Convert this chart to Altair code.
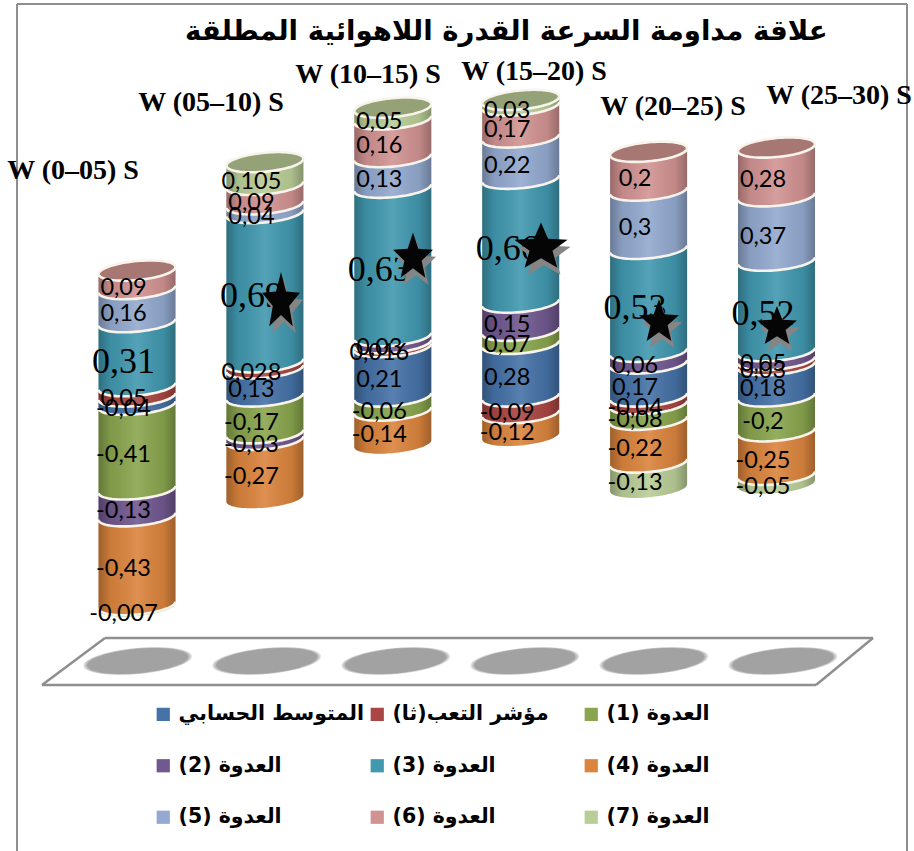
import math
import altair as alt
import numpy as np
import pandas as pd

# Speed-endurance bands shown on the category axis
bands = ["W (0–05) S", "W (05–10) S", "W (10–15) S", "W (15–20) S", "W (20–25) S", "W (25–30) S"]

# Series values per band, in stacking order
series_names = ["المتوسط الحسابي", "مؤشر التعب(ثا)", "العدوة (1)", "العدوة (2)", "العدوة (3)",
                "العدوة (4)", "العدوة (5)", "العدوة (6)", "العدوة (7)"]
mean_values = [-0.04, 0.13, 0.21, 0.28, 0.17, 0.18]
fatigue_values = [0.05, 0.028, 0.016, -0.09, -0.04, 0.03]
run1_values = [-0.41, -0.17, -0.06, 0.07, -0.08, -0.2]
run2_values = [-0.13, -0.03, 0.03, 0.15, 0.06, 0.05]
run3_values = [0.31, 0.69, 0.63, 0.66, 0.53, 0.52]
run4_values = [-0.43, -0.27, -0.14, -0.12, -0.22, -0.25]
run5_values = [0.16, 0.04, 0.13, 0.22, 0.3, 0.37]
run6_values = [0.09, 0.09, 0.16, 0.17, 0.2, 0.28]
run7_values = [-0.007, 0.105, 0.05, 0.03, -0.13, -0.05]
series_values = [mean_values, fatigue_values, run1_values, run2_values, run3_values,
                 run4_values, run5_values, run6_values, run7_values]
series_colors = ["#4572A7", "#AA4643", "#89A54E", "#71588F", "#4198AF",
                 "#DB843D", "#93A9CF", "#D19392", "#B9CD96"]

TITLE = "علاقة مداومة السرعة القدرة اللاهوائية المطلقة"

# Page geometry
W, H = 914, 851
COL0_PX, COL_STEP_PX = 137.0, 127.9
ZERO_PX, SHARE_PX = 396.5, 336.0
HALF_WIDTH = 38.5 / COL_STEP_PX
ARC_PX, TILT_PX = 9.5, 3.5

x_scale = alt.Scale(domain=[-COL0_PX / COL_STEP_PX, (W - COL0_PX) / COL_STEP_PX], range=[0, W], nice=False, zero=False)
y_scale = alt.Scale(domain=[(ZERO_PX - H) / SHARE_PX, ZERO_PX / SHARE_PX], range=[H, 0], nice=False, zero=False)

# Each band is normalised to the sum of absolute values, positives stacked up, negatives down
segments = []
for col in range(len(bands)):
    total = sum(abs(s[col]) for s in series_values)
    up, down = 0.0, 0.0
    for idx, s in enumerate(series_values):
        v = s[col]
        share = abs(v) / total
        if v >= 0:
            lo, hi = up, up + share
            up = hi
        else:
            lo, hi = down - share, down
            down = lo
        segments.append(dict(col=col, idx=idx, series=series_names[idx], value=v, lo=lo, hi=hi,
                             label=str(v).replace(".", ","), mid=(lo + hi) / 2))
seg = pd.DataFrame(segments)
tops = seg.loc[seg.groupby("col")["hi"].idxmax()]
bottoms = seg.loc[seg.groupby("col")["lo"].idxmin()]

# Sweep around the cylinder face; denser towards the rim
sweep = np.sin(np.linspace(-math.pi / 2, math.pi / 2, 41))
front = (ARC_PX * np.sqrt(np.clip(1 - sweep ** 2, 0, 1)) - TILT_PX * sweep) / SHARE_PX
back = (-ARC_PX * np.sqrt(np.clip(1 - sweep ** 2, 0, 1)) - TILT_PX * sweep) / SHARE_PX

bodies, lines, caps = [], [], []
for r in seg.itertuples():
    key = f"{r.col}-{r.idx}"
    for t, f in zip(sweep, front):
        bodies.append(dict(key=key, series=r.series, x=r.col + t * HALF_WIDTH, y=r.hi - f, y2=r.lo - f))
    if r.lo > bottoms[bottoms.col == r.col]["lo"].iloc[0] + 1e-9:
        for t, f in zip(sweep, front):
            lines.append(dict(key=key, x=r.col + t * HALF_WIDTH, y=r.lo - f))
for r in tops.itertuples():
    key = f"{r.col}-{r.idx}"
    for t, f, b in zip(sweep, front, back):
        caps.append(dict(key=key, series=r.series, x=r.col + t * HALF_WIDTH, y=r.hi - f, y2=r.hi - b))
        lines.append(dict(key=key + "top", x=r.col + t * HALF_WIDTH, y=r.hi - f))
        lines.append(dict(key=key + "back", x=r.col + t * HALF_WIDTH, y=r.hi - b))
bodies = pd.DataFrame(bodies)
caps = pd.DataFrame(caps)
lines = pd.DataFrame(lines)

X = alt.X("x:Q", scale=x_scale, axis=None)
Y = alt.Y("y:Q", scale=y_scale, axis=None)
color = alt.Color("series:N", scale=alt.Scale(domain=series_names, range=series_colors),
                  sort=series_names,
                  legend=alt.Legend(title=None, orient="none", legendX=153, legendY=704, columns=3,
                                    direction="horizontal", symbolType="square", symbolSize=175,
                                    symbolOffset=0, labelFont="DejaVu Sans", labelFontWeight="bold",
                                    labelFontSize=20.5, labelColor="black", labelLimit=300,
                                    gridAlign="all", columnPadding=3, rowPadding=30.5, labelOffset=5))

shade = alt.Gradient(gradient="linear", x1=0, y1=0, x2=1, y2=0, stops=[
    alt.GradientStop(offset=0, color="rgba(0,0,0,0.28)"),
    alt.GradientStop(offset=0.16, color="rgba(0,0,0,0.07)"),
    alt.GradientStop(offset=0.5, color="rgba(255,255,255,0.10)"),
    alt.GradientStop(offset=0.84, color="rgba(0,0,0,0.07)"),
    alt.GradientStop(offset=1, color="rgba(0,0,0,0.28)"),
])

body_layer = alt.Chart(bodies).mark_area().encode(X, Y, y2="y2:Q", color=color, detail="key:N")
shade_layer = alt.Chart(bodies).mark_area(color=shade).encode(X, Y, y2="y2:Q", detail="key:N")
cap_layer = alt.Chart(caps).mark_area().encode(X, Y, y2="y2:Q", color=alt.Color("series:N", scale=alt.Scale(domain=series_names, range=series_colors), legend=None), detail="key:N")
cap_shade = alt.Chart(caps).mark_area(color="#3a3028", opacity=0.28).encode(X, Y, y2="y2:Q", detail="key:N")
rim_layer = alt.Chart(lines).mark_line(color="#f8f4ec", strokeWidth=2.6).encode(X, Y, detail="key:N")

# Value labels sit left of centre on each segment
labels = seg.assign(x=seg.col - 13.5 / COL_STEP_PX)
small_text = alt.Chart(labels[labels.idx != 4]).mark_text(font="Lato", fontSize=23.5, color="black", dy=8).encode(
    X, alt.Y("mid:Q", scale=y_scale, axis=None), text="label:N")
big_text = alt.Chart(labels[labels.idx == 4]).mark_text(font="Liberation Serif", fontSize=36, color="black", dy=8).encode(
    X, alt.Y("mid:Q", scale=y_scale, axis=None), text="label:N")


def rule(x1, y1, x2, y2, color, width):
    return alt.Chart(pd.DataFrame({"k": [0]})).mark_rule(color=color, strokeWidth=width).encode(
        x=alt.value(x1), x2=alt.value(x2), y=alt.value(y1), y2=alt.value(y2))


FRAME = "#8f8f8f"
frame = [rule(17, 4, 17, H, FRAME, 2), rule(17, 4, 907, 4, FRAME, 2), rule(907, 4, 907, H, FRAME, 2)]
floor = [rule(105, 638, 873, 638, FRAME, 2.5), rule(42, 685, 816, 685, FRAME, 2.5),
         rule(105, 638, 42, 685, FRAME, 2.5), rule(873, 638, 816, 685, FRAME, 2.5)]


def ellipse_path(rx, ry, tilt):
    pts = []
    for k in range(48):
        a = 2 * math.pi * k / 48
        px, py = rx * math.cos(a), ry * math.sin(a)
        c, s = math.cos(tilt), math.sin(tilt)
        pts.append(f"{px * c - py * s:.3f},{px * s + py * c:.3f}")
    return "M" + "L".join(pts) + "Z"


# Soft shadows beneath the columns on the floor plane
shadow_data = pd.DataFrame({"x": [c * 1.009 + 0.005 for c in range(len(bands))]})
shadow_shape = ellipse_path(1.0, 0.24, -0.09)
shadows = [
    alt.Chart(shadow_data).mark_point(shape=shadow_shape, filled=True, color="#a2a2a2", opacity=op, size=sz, strokeWidth=0).encode(
        X, y=alt.value(661))
    for op, sz in [(0.35, 11900), (0.5, 11200), (1.0, 10400)]
]


def star_path(wh):
    pts = []
    for k in range(10):
        a = -math.pi / 2 + k * math.pi / 5
        rad = 1.0 if k % 2 == 0 else 0.43
        pts.append(f"{rad * math.cos(a) * wh:.3f},{rad * math.sin(a) + 0.1:.3f}")
    return "M" + "L".join(pts) + "Z"


# Significance stars: centre x, centre y, width, height in pixels
star_marks = [(281, 299, 40, 60), (413, 255, 42, 50), (541, 245, 56, 50), (659, 320, 42, 46), (777, 325, 42, 42)]
stars = []
for cx, cy, w, h in star_marks:
    mark_data = pd.DataFrame({"k": [0]})
    stars.append(alt.Chart(mark_data).mark_point(shape=star_path(w / h), filled=True, color="#858585", size=h * h, opacity=1, strokeWidth=0).encode(
        x=alt.value(cx + 3), y=alt.value(cy + 7)))
    stars.append(alt.Chart(mark_data).mark_point(shape=star_path(w / h), filled=True, color="#050505", size=h * h, opacity=1, strokeWidth=0).encode(
        x=alt.value(cx), y=alt.value(cy)))

# Band names are placed by hand above each column
band_pos = [(73, 171), (211, 103), (368, 75), (534, 72), (673, 107), (839, 96)]
band_text = [
    alt.Chart(pd.DataFrame({"band": [b]})).mark_text(font="Liberation Serif", fontWeight="bold", fontSize=28, color="black").encode(
        x=alt.value(px), y=alt.value(py), text="band:N")
    for b, (px, py) in zip(bands, band_pos)
]

chart = alt.layer(
    *frame, *floor, *shadows, body_layer, shade_layer, cap_layer, cap_shade, rim_layer,
    small_text, big_text, *stars, *band_text,
).properties(
    width=W, height=H, padding=0, background="white",
    autosize=alt.AutoSizeParams(type="none"),
    title=alt.TitleParams(TITLE, font="DejaVu Sans", fontWeight="bold", fontSize=27.6, color="black",
                          anchor="start", dx=185, dy=68, offset=0, orient="top", baseline="alphabetic"),
).configure_view(stroke=None)

chart.save("out.html", embed_options={"renderer": "svg", "actions": False})
